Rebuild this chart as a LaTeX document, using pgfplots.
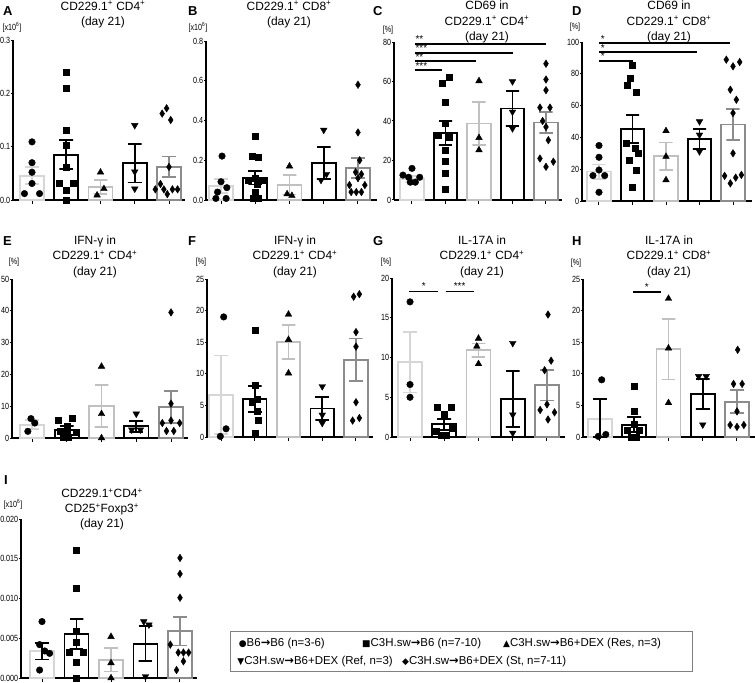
\documentclass[border=0pt]{standalone}
\usepackage{fontspec}
\setmainfont{Liberation Sans}
\newfontfamily\narrowf[FakeStretch=0.8]{Liberation Sans}
\newfontfamily\symf{DejaVu Sans}
\usepackage{pgfplots}
\pgfplotsset{compat=1.18}
\definecolor{cA}{HTML}{D6D6D6}
\definecolor{cC}{HTML}{C0C0C0}
\definecolor{cE}{HTML}{8C8C8C}
\pgfplotsset{
 panel/.style={scale only axis, anchor=north west, axis lines=left,
   axis line style={-, line width=1.3bp, black},
   xtick={1,2,3,4,5}, xticklabels={}, tick align=outside,
   major tick length=2bp, tick style={line width=1bp, black},
   xtick style={/pgfplots/major tick length=4bp},
   clip=false, ymin=0,
   every tick label/.append style={font=\narrowf\fontsize{9}{10}\selectfont, inner sep=0.6bp},
   /pgf/number format/assume math mode=true},
 gbar/.style={ybar, bar width=0.7, bar shift=0pt, fill=white, draw=#1, line width=1.8bp},
 sem/.style={draw=#1, line width=1.8bp, no marks, line join=miter},
 p1/.style={only marks, mark=*, mark size=3.3bp, black},
 p2/.style={only marks, mark=square*, mark size=3bp, black},
 p3/.style={only marks, mark=triangle*, mark size=3.8bp, black},
 p4/.style={only marks, mark=triangle*, mark size=3.8bp, black, mark options={rotate=180}},
 p5/.style={only marks, mark=diamond*, mark size=3.8bp, black, mark options={xscale=0.85}},
 sig/.style={black, line width=1.8bp, no marks},
}
% SEM bar: colour, left cap x, centre x, right cap x, low, high
\newcommand{\sem}[6]{\addplot[sem=#1] coordinates {(#2,#6) (#4,#6) (#3,#6) (#3,#5) (#2,#5) (#4,#5)};}
\newcommand{\tl}[3]{\node[anchor=base, inner sep=0, font=\fontsize{12}{14}\selectfont] at (#1bp,-#2bp) {#3};}
\newcommand{\plet}[3]{\node[anchor=base west, inner sep=0, font=\fontsize{13}{14}\selectfont\bfseries] at (#1bp,-#2bp) {#3};}
\newcommand{\unit}[3]{\node[anchor=base, inner sep=0, font=\narrowf\fontsize{9}{10}\selectfont] at (#1bp,-#2bp) {#3};}
\newcommand{\stars}{\fontsize{10}{10}\selectfont}
\newcommand{\arr}{{\symf\bfseries →}}
\newcommand{\spp}[1]{\textsuperscript{#1}}
\newcommand{\lsym}[1]{{\symf\fontsize{9}{9}\selectfont #1}}
\begin{document}
\begin{tikzpicture}
\useasboundingbox (0,0) rectangle (755bp,-683bp);

% ---------------- A
\begin{axis}[panel, at={(13bp,-40bp)}, width=172bp, height=160bp, xmin=0.445, xmax=5.467, ymax=0.3,
  ytick={0,0.1,0.2,0.3},
  yticklabel style={/pgf/number format/fixed,/pgf/number format/fixed zerofill,/pgf/number format/precision=1}]
\addplot[gbar=cA] coordinates {(1,0.0456)};
\addplot[gbar=black] coordinates {(2,0.085)};
\addplot[gbar=cC] coordinates {(3,0.025)};
\addplot[gbar=black] coordinates {(4,0.069)};
\addplot[gbar=cE] coordinates {(5,0.0625)};
\addplot[p1] coordinates {(1,0.109) (1,0.07) (1,0.052) (1,0.031) (0.78,0.012) (1.22,0.012)};
\addplot[p2] coordinates {(2,0.24) (2,0.21) (2,0.131) (2,0.102) (2,0.062) (1.8,0.031) (2.2,0.031) (2,0.019) (2,0.0)};
\addplot[p3] coordinates {(3,0.052) (3.1,0.021) (2.9,0.009)};
\addplot[p4] coordinates {(4,0.14) (4,0.053) (4,0.021)};
\addplot[p5] coordinates {(4.93,0.172) (4.8,0.162) (5.05,0.15) (5,0.062) (4.75,0.03) (4.6,0.02) (4.85,0.02) (5.1,0.02) (5.25,0.02) (4.95,0.011)};
\sem{cA}{0.8}{1}{1.2}{0.0296}{0.0616}
\sem{black}{1.8}{2}{2.2}{0.058}{0.112}
\sem{cC}{2.8}{3}{3.2}{0.012}{0.038}
\sem{black}{3.8}{4}{4.2}{0.033}{0.105}
\sem{cE}{4.8}{5}{5.2}{0.0435}{0.0815}
\end{axis}

% ---------------- B
\begin{axis}[panel, at={(206bp,-41bp)}, width=171bp, height=159bp, xmin=0.562, xmax=5.555, ymax=0.8,
  ytick={0,0.2,0.4,0.6,0.8},
  yticklabel style={/pgf/number format/fixed,/pgf/number format/fixed zerofill,/pgf/number format/precision=1}]
\addplot[gbar=cA] coordinates {(1,0.07)};
\addplot[gbar=black] coordinates {(2,0.112)};
\addplot[gbar=cC] coordinates {(3,0.076)};
\addplot[gbar=black] coordinates {(4,0.186)};
\addplot[gbar=cE] coordinates {(5,0.161)};
\addplot[p1] coordinates {(1.03,0.221) (1,0.092) (1.17,0.062) (0.9,0.04) (0.85,0.008) (1.15,0.008)};
\addplot[p2] coordinates {(2,0.322) (1.9,0.221) (2.1,0.213) (2,0.11) (1.8,0.1) (2.2,0.1) (2.05,0.08) (2,0.04) (1.95,0.008) (2.08,0.008)};
\addplot[p3] coordinates {(3,0.17) (2.93,0.03) (3.07,0.022)};
\addplot[p4] coordinates {(4,0.352) (4.08,0.13) (3.92,0.10)};
\addplot[p5] coordinates {(5,0.58) (5,0.34) (5.05,0.2) (4.93,0.14) (5.1,0.13) (4.75,0.075) (5.2,0.075) (5,0.11) (4.8,0.04) (4.95,0.04) (5.1,0.04)};
\sem{cA}{0.8}{1}{1.2}{0.035}{0.105}
\sem{black}{1.8}{2}{2.2}{0.078}{0.146}
\sem{cC}{2.8}{3}{3.2}{0.028}{0.124}
\sem{black}{3.8}{4}{4.2}{0.106}{0.266}
\sem{cE}{4.8}{5}{5.2}{0.111}{0.211}
\end{axis}

% ---------------- C
\begin{axis}[panel, at={(394bp,-42bp)}, width=168bp, height=158bp, xmin=0.463, xmax=5.478, ymax=80,
  ytick={0,20,40,60,80}]
\addplot[gbar=cA] coordinates {(1,10.6)};
\addplot[gbar=black] coordinates {(2,34)};
\addplot[gbar=cC] coordinates {(3,38.7)};
\addplot[gbar=black] coordinates {(4,46.3)};
\addplot[gbar=cE] coordinates {(5,39.2)};
\addplot[p1] coordinates {(1,16) (0.73,12.6) (0.9,11.5) (1.23,11.5) (1.1,9) (0.95,9)};
\addplot[p2] coordinates {(2.1,62) (1.89,59.3) (2,49.7) (2,38.7) (1.78,33) (2.1,32) (2,25) (2,19.4) (2,13.8) (2,5.6)};
\addplot[p3] coordinates {(3,60.3) (3,31.5) (3,25.3)};
\addplot[p4] coordinates {(4,60) (4,44.6) (4,36.2)};
\addplot[p5] coordinates {(5,69) (5,61) (5,55.6) (4.82,46.8) (5.12,46.8) (5,37) (5.07,30.3) (4.82,21) (5.22,19.4) (5,16.8) (4.9,40)};
\sem{cA}{0.8}{1}{1.2}{9.1}{12.1}
\sem{black}{1.8}{2}{2.2}{28}{40}
\sem{cC}{2.8}{3}{3.2}{27.9}{49.5}
\sem{black}{3.8}{4}{4.2}{37.6}{55}
\sem{cE}{4.8}{5}{5.2}{33.8}{44.6}
\addplot[sig] coordinates {(1.08,79.1) (5,79.1)};
\addplot[sig] coordinates {(1.08,74.6) (4.02,74.6)};
\addplot[sig] coordinates {(1.08,70.2) (2.9,70.2)};
\addplot[sig] coordinates {(1.08,65.7) (1.91,65.7)};
\node[anchor=south west, inner sep=0, font=\stars] at (axis cs:1.1,79.6) {**};
\node[anchor=south west, inner sep=0, font=\stars] at (axis cs:1.1,75.1) {***};
\node[anchor=south west, inner sep=0, font=\stars] at (axis cs:1.1,70.7) {**};
\node[anchor=south west, inner sep=0, font=\stars] at (axis cs:1.1,66.2) {***};
\end{axis}

% ---------------- D
\begin{axis}[panel, at={(582bp,-42bp)}, width=170bp, height=159bp, xmin=0.493, xmax=5.567, ymax=100,
  ytick={0,20,40,60,80,100}]
\addplot[gbar=cA] coordinates {(1,18.5)};
\addplot[gbar=black] coordinates {(2,45.4)};
\addplot[gbar=cC] coordinates {(3,28.2)};
\addplot[gbar=black] coordinates {(4,39)};
\addplot[gbar=cE] coordinates {(5,48.1)};
\addplot[p1] coordinates {(1,34.9) (1,27.5) (0.82,16) (1.17,16) (1,19.5) (1,5.5)};
\addplot[p2] coordinates {(2,85.7) (1.92,77.3) (1.85,73.1) (2.1,68.5) (1.8,36.3) (2.08,33) (2.18,30) (1.9,25.4) (2.1,19.5) (2,8.4)};
\addplot[p3] coordinates {(3,44.1) (3,27.9) (3,13.2)};
\addplot[p4] coordinates {(4,50) (4,41.6) (4,31.1)};
\addplot[p5] coordinates {(4.8,88.9) (5.2,87.4) (5,84.7) (4.92,70) (5.1,63.7) (5,55.3) (5,30) (4.75,15.8) (5.25,16.4) (5.08,14.7) (4.92,11.1)};
\sem{cA}{0.8}{1}{1.2}{14}{23}
\sem{black}{1.8}{2}{2.2}{36.5}{54.3}
\sem{cC}{2.8}{3}{3.2}{19.6}{36.8}
\sem{black}{3.8}{4}{4.2}{32.7}{45.3}
\sem{cE}{4.8}{5}{5.2}{38.3}{57.9}
\addplot[sig] coordinates {(1,99.2) (4.92,99.2)};
\addplot[sig] coordinates {(1,93.7) (3.94,93.7)};
\addplot[sig] coordinates {(1,88.2) (2.01,88.2)};
\node[anchor=south west, inner sep=0, font=\stars] at (axis cs:1.05,99.7) {*};
\node[anchor=south west, inner sep=0, font=\stars] at (axis cs:1.05,94.2) {*};
\node[anchor=south west, inner sep=0, font=\stars] at (axis cs:1.05,88.7) {*};
\end{axis}

% ---------------- E
\begin{axis}[panel, at={(12bp,-279bp)}, width=176bp, height=159bp, xmin=0.424, xmax=5.489, ymax=50,
  ytick={0,10,20,30,40,50}]
\addplot[gbar=cA] coordinates {(1,4.2)};
\addplot[gbar=black] coordinates {(2,2.4)};
\addplot[gbar=cC] coordinates {(3,10)};
\addplot[gbar=black] coordinates {(4,3.7)};
\addplot[gbar=cE] coordinates {(5,9.7)};
\addplot[p1] coordinates {(0.97,6.1) (1.08,4.7) (0.88,2.1)};
\addplot[p2] coordinates {(1.75,5.5) (2.17,6.3) (2,3.8) (1.8,2.0) (2,1.9) (2.27,1.9) (1.9,0.3) (2.05,0.3)};
\addplot[p3] coordinates {(3,22.5) (3,7.6) (3,0)};
\addplot[p4] coordinates {(4,7.6) (3.87,2.6) (4.12,2.6)};
\addplot[p5] coordinates {(5,39.5) (5,10.8) (5,5.5) (4.75,4.7) (5.25,4.7) (4.87,2.2) (5.08,2.2)};
\sem{cA}{0.8}{1}{1.2}{2.8}{5.6}
\sem{black}{1.8}{2}{2.2}{1.0}{3.8}
\sem{cC}{2.8}{3}{3.2}{3.4}{16.6}
\sem{black}{3.8}{4}{4.2}{2.0}{5.4}
\sem{cE}{4.8}{5}{5.2}{4.6}{14.8}
\end{axis}

% ---------------- F
\begin{axis}[panel, at={(207bp,-279bp)}, width=166bp, height=158bp, xmin=0.585, xmax=5.504, ymax=25,
  ytick={0,5,10,15,20,25}]
\addplot[gbar=cA] coordinates {(1,6.7)};
\addplot[gbar=black] coordinates {(2,6.0)};
\addplot[gbar=cC] coordinates {(3,15.0)};
\addplot[gbar=black] coordinates {(4,4.5)};
\addplot[gbar=cE] coordinates {(5,12.2)};
\addplot[p1] coordinates {(1.08,19) (1.15,1.3) (0.98,0.1)};
\addplot[p2] coordinates {(2,16.9) (2,8.2) (2.08,6.0) (1.92,5.5) (2.08,4.1) (2.1,2.6) (2,0.6)};
\addplot[p3] coordinates {(3,19.4) (3,15.4) (3,10.1)};
\addplot[p4] coordinates {(4,8.0) (4,3.5) (4,2.2)};
\addplot[p5] coordinates {(4.93,22.2) (5.1,22.6) (5,16.6) (5,14.3) (5,5.5) (4.9,2.6) (5.1,3.0)};
\sem{cA}{0.8}{1}{1.2}{0.5}{12.9}
\sem{black}{1.8}{2}{2.2}{3.9}{8.1}
\sem{cC}{2.8}{3}{3.2}{12.3}{17.7}
\sem{black}{3.8}{4}{4.2}{2.7}{6.3}
\sem{cE}{4.8}{5}{5.2}{8.8}{15.6}
\end{axis}

% ---------------- G
\begin{axis}[panel, at={(392bp,-278bp)}, width=173bp, height=159bp, xmin=0.474, xmax=5.526, ymax=20,
  ytick={0,5,10,15,20}]
\addplot[gbar=cA] coordinates {(1,9.4)};
\addplot[gbar=black] coordinates {(2,1.6)};
\addplot[gbar=cC] coordinates {(3,10.9)};
\addplot[gbar=black] coordinates {(4,4.8)};
\addplot[gbar=cE] coordinates {(5,6.5)};
\addplot[p1] coordinates {(1,17) (1,6.6) (1,5)};
\addplot[p2] coordinates {(1.8,3.8) (2.2,3.8) (2,2.9) (2.22,1.1) (1.75,0.7) (1.9,0.2) (2.07,0.2)};
\addplot[p3] coordinates {(3,12.4) (2.95,11.4) (3,9.2)};
\addplot[p4] coordinates {(4,11.8) (4,2.8) (4,0.5)};
\addplot[p5] coordinates {(5.03,15.4) (5.12,9.6) (4.93,8.4) (5,4.1) (4.8,3.4) (5.22,3.1) (5.03,2.2)};
\sem{cA}{0.8}{1}{1.2}{5.6}{13.2}
\sem{black}{1.8}{2}{2.2}{0.9}{2.3}
\sem{cC}{2.8}{3}{3.2}{10.05}{11.75}
\sem{black}{3.8}{4}{4.2}{1.3}{8.3}
\sem{cE}{4.8}{5}{5.2}{4.6}{8.4}
\addplot[sig] coordinates {(0.98,18.3) (1.83,18.3)};
\addplot[sig] coordinates {(2.04,18.3) (2.86,18.3)};
\node[anchor=south, inner sep=0, font=\stars] at (axis cs:1.4,18.5) {*};
\node[anchor=south, inner sep=0, font=\stars] at (axis cs:2.45,18.5) {***};
\end{axis}

% ---------------- H
\begin{axis}[panel, at={(583bp,-279bp)}, width=172bp, height=158bp, xmin=0.504, xmax=5.526, ymax=25,
  ytick={0,5,10,15,20,25}]
\addplot[gbar=cA] coordinates {(1,2.9)};
\addplot[gbar=black] coordinates {(2,1.95)};
\addplot[gbar=cC] coordinates {(3,13.9)};
\addplot[gbar=black] coordinates {(4,6.8)};
\addplot[gbar=cE] coordinates {(5,5.6)};
\addplot[p1] coordinates {(1.05,9.05) (0.95,0.1) (1.17,0.4)};
\addplot[p2] coordinates {(2,8.0) (2,4.05) (2,1.95) (1.8,1.05) (2.15,1.15) (1.9,0) (2.05,0)};
\addplot[p3] coordinates {(3,21.9) (3,14.05) (3,5.4)};
\addplot[p4] coordinates {(3.88,9.6) (4.1,9.6) (4,1.95)};
\addplot[p5] coordinates {(5.02,13.8) (4.9,8.4) (5.15,8.4) (5,4.05) (4.8,1.9) (5,1.6) (5.2,1.9)};
\sem{black}{0.8}{1}{1.2}{0}{6.0}
\sem{black}{1.8}{2}{2.2}{0.75}{3.15}
\sem{cC}{2.8}{3}{3.2}{9.1}{18.7}
\sem{black}{3.8}{4}{4.2}{4.4}{9.2}
\sem{cE}{4.8}{5}{5.2}{3.8}{7.4}
\addplot[sig] coordinates {(1.96,23) (2.79,23)};
\node[anchor=south, inner sep=0, font=\stars] at (axis cs:2.37,23.2) {*};
\end{axis}

% ---------------- I
\begin{axis}[panel, at={(21bp,-519bp)}, width=176bp, height=159bp, xmin=0.391, xmax=5.493, ymax=0.02,
  ytick={0,0.005,0.01,0.015,0.02}, scaled y ticks=false,
  yticklabel style={/pgf/number format/fixed,/pgf/number format/fixed zerofill,/pgf/number format/precision=3}]
\addplot[gbar=cA] coordinates {(1,0.00335)};
\addplot[gbar=black] coordinates {(2,0.00556)};
\addplot[gbar=cC] coordinates {(3,0.0023)};
\addplot[gbar=black] coordinates {(4,0.0043)};
\addplot[gbar=cE] coordinates {(5,0.0059)};
\addplot[p1] coordinates {(1,0.0071) (0.93,0.0042) (1.22,0.0031) (1.08,0.0034) (0.93,0.001)};
\addplot[p2] coordinates {(2,0.0161) (2,0.0113) (2,0.0059) (2,0.0045) (1.8,0.0032) (2.2,0.0032) (2,0.002) (2,0)};
\addplot[p3] coordinates {(3,0.0052) (3,0.0019) (3,0)};
\addplot[p4] coordinates {(3.95,0.0071) (4.1,0.0067) (4,0.0002)};
\addplot[p5] coordinates {(5,0.0151) (5,0.0131) (5,0.0101) (4.72,0.0042) (4.95,0.0032) (5.1,0.0032) (5.25,0.0032) (5.1,0.0021) (4.9,0.001)};
\sem{black}{0.8}{1}{1.2}{0.00232}{0.00438}
\sem{black}{1.8}{2}{2.2}{0.00366}{0.00746}
\sem{cC}{2.8}{3}{3.2}{0.00083}{0.00377}
\sem{black}{3.8}{4}{4.2}{0.0021}{0.0065}
\sem{cE}{4.8}{5}{5.2}{0.0041}{0.0077}
\end{axis}

% ---------------- titles
\plet{3}{15}{A} \tl{103}{10}{CD229.1\spp{+} CD4\spp{+}} \tl{103}{25.5}{(day 21)}
\plet{188}{15}{B} \tl{289}{10}{CD229.1\spp{+} CD8\spp{+}} \tl{289}{25.5}{(day 21)}
\plet{373}{15}{C} \tl{487}{9}{CD69 in} \tl{487}{25}{CD229.1\spp{+} CD4\spp{+}} \tl{487}{40}{(day 21)}
\plet{572}{15}{D} \tl{669}{9}{CD69 in} \tl{669}{25}{CD229.1\spp{+} CD8\spp{+}} \tl{669}{40}{(day 21)}
\plet{3}{245}{E} \tl{95}{244}{IFN-γ in} \tl{95}{259.5}{CD229.1\spp{+} CD4\spp{+}} \tl{95}{275}{(day 21)}
\plet{188}{245}{F} \tl{295}{244}{IFN-γ in} \tl{295}{259.5}{CD229.1\spp{+} CD4\spp{+}} \tl{295}{275}{(day 21)}
\plet{373}{245}{G} \tl{482}{244}{IL-17A in} \tl{482}{259.5}{CD229.1\spp{+} CD4\spp{+}} \tl{482}{275}{(day 21)}
\plet{572}{245}{H} \tl{669}{244}{IL-17A in} \tl{669}{259.5}{CD229.1\spp{+} CD8\spp{+}} \tl{669}{275}{(day 21)}
\plet{4}{484}{I} \tl{102}{497.5}{CD229.1\spp{+}CD4\spp{+}} \tl{102}{512.5}{CD25\spp{+}Foxp3\spp{+}} \tl{102}{527.5}{(day 21)}

% ---------------- unit labels
\unit{12}{30}{[x10\spp{6}]}
\unit{198}{30}{[x10\spp{6}]}
\unit{388}{32}{[\%]}
\unit{575}{29}{[\%]}
\unit{14}{264}{[\%]}
\unit{201}{264}{[\%]}
\unit{386}{264}{[\%]}
\unit{576}{265}{[\%]}
\unit{13}{507}{[x10\spp{6}]}

% ---------------- legend
\draw[gray, line width=0.8bp] (230bp,-631bp) rectangle (692bp,-671bp);
\begin{scope}[every node/.style={inner sep=0, font=\fontsize{11.5}{12}\selectfont}]
\node[anchor=east] at (325bp,-644bp) {\lsym{●}B6\arr B6 (n=3-6)};
\node[anchor=west] at (362bp,-644bp) {\lsym{■}C3H.sw\arr B6 (n=7-10)};
\node[anchor=west] at (503bp,-644bp) {\lsym{▲}C3H.sw\arr B6+DEX (Res, n=3)};
\node[anchor=east] at (393bp,-662bp) {\lsym{▼}C3H.sw\arr B6+DEX (Ref, n=3)};
\node[anchor=west] at (402bp,-662bp) {\lsym{◆}C3H.sw\arr B6+DEX (St, n=7-11)};
\end{scope}
\end{tikzpicture}
\end{document}
